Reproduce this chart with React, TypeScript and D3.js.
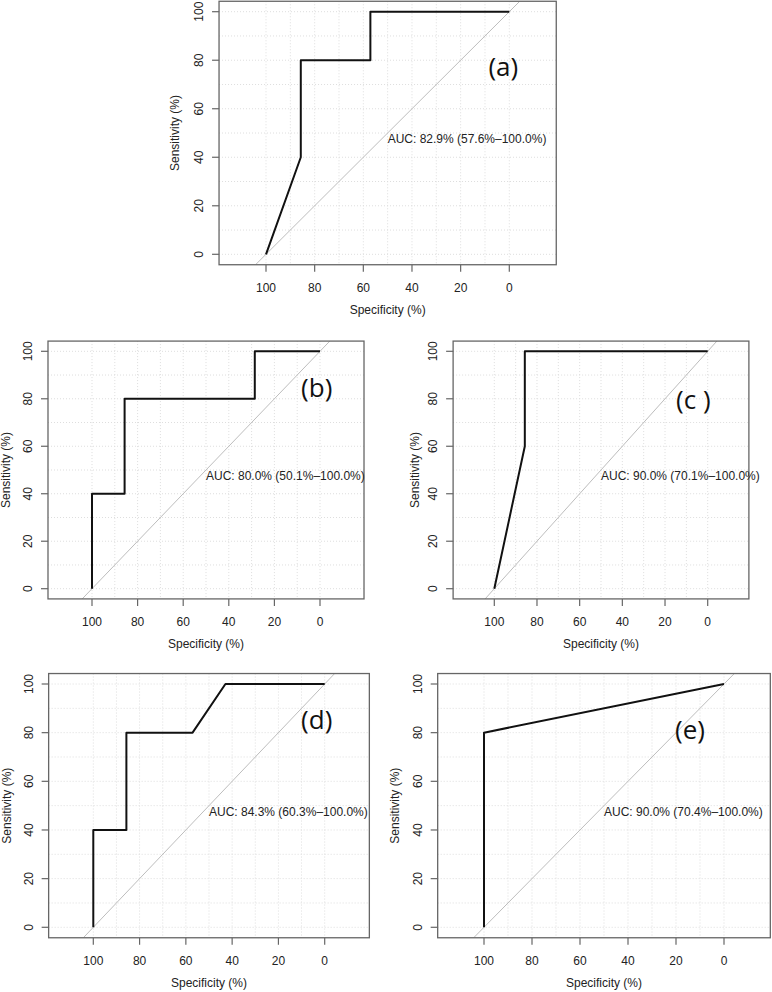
import React from "react";
import * as d3 from "d3";

// ---------- data ----------
const panelLabels = ["(a)", "(b)", "(c )", "(d)", "(e)"];
const aucTexts = [
  "AUC: 82.9% (57.6%\u2013100.0%)",
  "AUC: 80.0% (50.1%\u2013100.0%)",
  "AUC: 90.0% (70.1%\u2013100.0%)",
  "AUC: 84.3% (60.3%\u2013100.0%)",
  "AUC: 90.0% (70.4%\u2013100.0%)",
];
const specA = [100, 85.7, 85.7, 57.1, 57.1, 0];
const sensA = [0, 40, 80, 80, 100, 100];
const specB = [100, 100, 85.7, 85.7, 28.6, 28.6, 0];
const sensB = [0, 40, 40, 80, 80, 100, 100];
const specC = [100, 85.7, 85.7, 0];
const sensC = [0, 60, 100, 100];
const specD = [100, 100, 85.7, 85.7, 57.1, 42.9, 0];
const sensD = [0, 40, 40, 80, 80, 100, 100];
const specE = [100, 100, 0];
const sensE = [0, 80, 100];
const specList = [specA, specB, specC, specD, specE];
const sensList = [sensA, sensB, sensC, sensD, sensE];

const xTicks = [100, 80, 60, 40, 20, 0];
const yTicks = [0, 20, 40, 60, 80, 100];
const gridVals = [0, 10, 20, 30, 40, 50, 60, 70, 80, 90, 100];
const xLabel = "Specificity (%)";
const yLabel = "Sensitivity (%)";

// ---------- layout (pixel positions of value 100 / 0 on each axis) ----------
const layouts = [
  { x100: 266, x0: 509.3, y0: 254.3, y100: 11.7, ylab: 44, lx: 503.3, ly: 68 },
  { x100: 92, x0: 320, y0: 588.7, y100: 351.3, ylab: 42, lx: 316.7, ly: 389 },
  { x100: 494.3, x0: 707.7, y0: 588.7, y100: 351.3, ylab: 38, lx: 693.3, ly: 401.7 },
  { x100: 93.3, x0: 324.7, y0: 927.3, y100: 684, ylab: 42, lx: 316.7, ly: 721.7 },
  { x100: 484, x0: 724, y0: 927.3, y100: 684, ylab: 43, lx: 690, ly: 731.7 },
];

const XMIN = 119.3, XMAX = -19.3, YMIN = -4.3, YMAX = 104.3;
const FONT = "'Liberation Sans', Arial, Helvetica, sans-serif";

function Panel({ i }: { i: number }) {
  const L = layouts[i];
  const x = d3.scaleLinear().domain([100, 0]).range([L.x100, L.x0]);
  const y = d3.scaleLinear().domain([0, 100]).range([L.y0, L.y100]);
  const left = x(XMIN), right = x(XMAX), top = y(YMAX), bottom = y(YMIN);
  const pts = specList[i].map((s, k) => [s, sensList[i][k]] as [number, number]);
  const line = d3.line<[number, number]>().x((d) => x(d[0])).y((d) => y(d[1]));
  const clipId = `clip${i}`;
  // identity line y = 100 - x clipped to the plot region
  const diag: [number, number][] = [
    [100 - YMIN, YMIN],
    [100 - YMAX, YMAX],
  ];
  const textColor = "#222";
  return (
    <g>
      <defs>
        <clipPath id={clipId}>
          <rect x={left} y={top} width={right - left} height={bottom - top} />
        </clipPath>
      </defs>
      <g clipPath={`url(#${clipId})`}>
        {gridVals.map((g) => (
          <line key={"h" + g} x1={left} x2={right} y1={y(g)} y2={y(g)}
            stroke="#dddddd" strokeWidth={1} strokeDasharray="1,2" />
        ))}
        {gridVals.map((g) => (
          <line key={"v" + g} x1={x(g)} x2={x(g)} y1={top} y2={bottom}
            stroke="#dddddd" strokeWidth={1} strokeDasharray="1,2" />
        ))}
        <path d={line(diag) || ""} stroke="#bdbdbd" strokeWidth={1} fill="none" />
        <path d={line(pts) || ""} stroke="#111" strokeWidth={2} fill="none" strokeLinejoin="round" />
      </g>
      <rect x={left} y={top} width={right - left} height={bottom - top}
        fill="none" stroke="#666" strokeWidth={1.3} />
      {xTicks.map((t) => (
        <g key={"xt" + t}>
          <line x1={x(t)} x2={x(t)} y1={bottom} y2={bottom + 7} stroke="#666" strokeWidth={1.2} />
          <text x={x(t)} y={bottom + 23} textAnchor="middle" dominantBaseline="central"
            fontFamily={FONT} fontSize={12} fill={textColor}>{t}</text>
        </g>
      ))}
      {yTicks.map((t) => (
        <g key={"yt" + t}>
          <line x1={left - 7} x2={left} y1={y(t)} y2={y(t)} stroke="#666" strokeWidth={1.2} />
          <text transform={`translate(${left - 20},${y(t)}) rotate(-90)`} textAnchor="middle"
            dominantBaseline="central" fontFamily={FONT} fontSize={12} fill={textColor}>{t}</text>
        </g>
      ))}
      <text x={x(50)} y={bottom + 45} textAnchor="middle" dominantBaseline="central"
        fontFamily={FONT} fontSize={12} fill={textColor}>{xLabel}</text>
      <text transform={`translate(${left - L.ylab},${y(50)}) rotate(-90)`} textAnchor="middle"
        dominantBaseline="central" fontFamily={FONT} fontSize={12} fill={textColor}>{yLabel}</text>
      <text x={x(50)} y={y(50) + 10} textAnchor="start" fontFamily={FONT} fontSize={12}
        fill={textColor}>{aucTexts[i]}</text>
      <text x={L.lx} y={L.ly + 7.5} textAnchor="middle" fontFamily="'Open Sans', 'Noto Sans', sans-serif"
        fontSize={26} fill="#111">{panelLabels[i]}</text>
    </g>
  );
}

export default function App() {
  return (
    <svg width={772} height={992} style={{ position: "absolute", left: 0, top: 0, background: "#fff" }}>
      <rect width={772} height={992} fill="#fff" />
      {layouts.map((_, i) => (
        <Panel key={i} i={i} />
      ))}
    </svg>
  );
}
